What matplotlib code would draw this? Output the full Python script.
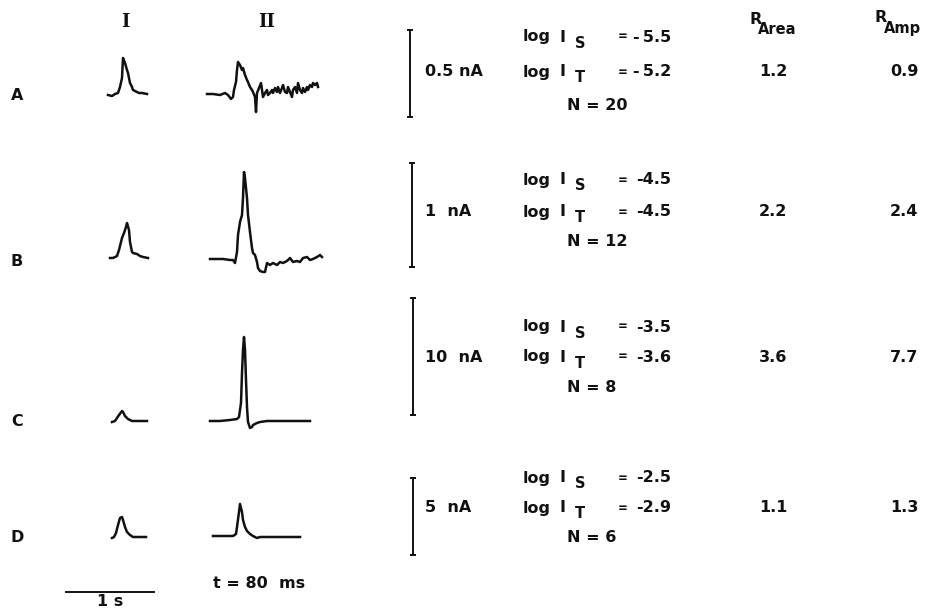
import matplotlib.pyplot as plt

plt.rcParams['font.family'] = ['DejaVu Sans']

# Averaged responses. t = sweep time, v = deflection from baseline (screen units)
# Column I: slow sweep
a1_t = [0, 4, 7, 10, 12, 14, 15, 17, 19, 20, 22, 24, 25, 29, 31, 34, 39]
a1_v = [0, -1, 1, 2, 8, 17, 37, 32, 25, 22, 12, 8, 5, 3, 2, 2, 1]
b1_t = [0, 3, 7, 9, 12, 14, 16, 17, 19, 20, 22, 23, 27, 30, 33, 38]
b1_v = [0, 0, 2, 8, 20, 25, 31, 35, 28, 16, 6, 5, 4, 2, 1, 0]
c1_t = [0, 3, 5, 7, 10, 11, 13, 16, 20, 25, 35]
c1_v = [-1, 0, 3, 6, 10, 9, 5, 2, 0, 0, 0]
d1_t = [0, 2, 4, 6, 8, 10, 11, 13, 15, 18, 21, 28, 34]
d1_v = [-1, 0, 4, 12, 19, 20, 17, 10, 5, 2, 0, 0, 0]

# Column II: fast sweep
a2_t = [0, 6, 13, 18, 21, 24, 26, 27, 29, 30, 31, 33, 35, 36, 38, 40, 41, 43, 45, 46,
        48, 49, 50, 52, 54, 55, 56, 58, 60, 61, 63, 65, 66, 68, 70, 71, 73, 75, 76, 78,
        80, 81, 83, 85, 86, 88, 90, 91, 93, 95, 96, 98, 100, 101, 103, 105, 106, 108, 110, 111]
a2_v = [0, 0, -1, 1, -1, -5, -3, 4, 12, 24, 32, 29, 24, 26, 19, 14, 12, 7, 4, 2,
        -3, -18, 1, 6, 11, 4, -3, 1, 4, -1, 1, 4, 1, 6, 2, 7, 1, 6, 9, 2,
        1, 7, 2, -3, 4, 7, 1, 11, 4, 1, 6, 2, 7, 4, 9, 7, 11, 9, 11, 7]
b2_t = [0, 7, 13, 20, 23, 25, 27, 28, 30, 32, 33, 34, 35, 37, 38, 40, 42, 43, 45, 47,
        48, 50, 53, 55, 57, 60, 63, 67, 70, 73, 77, 80, 83, 87, 90, 93, 97, 100, 103, 107,
        110, 112]
b2_v = [0, 0, 0, -1, -1, -4, 7, 24, 37, 44, 61, 87, 81, 61, 44, 27, 11, 6, 4, -3,
        -9, -12, -13, -13, -4, -6, -4, -6, -3, -4, -2, 1, -3, -2, -3, 1, 2, -1, 0, 2,
        4, 2]
c2_t = [0, 10, 20, 27, 29, 31, 32, 33, 34, 35, 36, 37, 38, 40, 42, 43, 47, 50, 57, 70, 90, 100]
c2_v = [0, 0, 1, 2, 4, 18, 48, 71, 84, 71, 41, 14, -1, -7, -6, -4, -2, -1, 0, 0, 0, 0]
d2_t = [0, 7, 14, 20, 23, 24, 26, 27, 29, 30, 32, 34, 37, 40, 44, 47, 54, 60, 67, 74, 80, 87]
d2_v = [0, 0, 0, 0, 2, 9, 24, 32, 24, 16, 9, 5, 2, 0, -2, -1, -1, -1, -1, -1, -1, -1]

rows = ['A', 'B', 'C', 'D']
col1 = [(a1_t, a1_v), (b1_t, b1_v), (c1_t, c1_v), (d1_t, d1_v)]
col2 = [(a2_t, a2_v), (b2_t, b2_v), (c2_t, c2_v), (d2_t, d2_v)]

# calibration and fit results per row
cal_nA = [0.5, 1, 10, 5]
cal_label = ['0.5 nA', '1  nA', '10  nA', '5  nA']
log_is = ['-\u20095.5', '-4.5', '-3.5', '-2.5']
log_it = ['-\u20095.2', '-4.5', '-3.6', '-2.9']
n_sweeps = [20, 12, 8, 6]
r_area = [1.2, 2.2, 3.6, 1.1]
r_amp = [0.9, 2.4, 7.7, 1.3]

# layout (pixels)
row_y = [95, 261, 421, 537]
base1 = [95, 258, 421, 537]
base2 = [94, 259, 421, 536]
x1 = [108, 110, 112, 112]
x2 = [207, 210, 210, 213]
gain = [174, 104, 11.7, 15.4]        # px per nA
bar_x = [410, 412, 413, 413]
bar_top = [30, 163, 298, 478]
lab_y = [72, 212, 357, 508]
is_y = [37, 180, 327, 478]
n_y = [106, 241, 388, 538]
px_per_s = 88

ink = '#111111'
fs = 11.5
fig = plt.figure(figsize=(9.3, 6.11), dpi=100)
ax = fig.add_axes([0, 0, 1, 1])
ax.set_xlim(0, 930)
ax.set_ylim(611, 0)
ax.axis('off')

txt = dict(color=ink, fontsize=fs, fontweight='bold', va='center')
sub = dict(color=ink, fontsize=10.5, fontweight='bold', va='center', ha='left')

ax.text(125, 22, 'I', family='DejaVu Serif', fontsize=13, fontweight='bold',
        color=ink, ha='center', va='center')
ax.text(267, 22, 'II', family='DejaVu Serif', fontsize=13, fontweight='bold',
        color=ink, ha='center', va='center')

for i, r in enumerate(rows):
    ax.text(17, row_y[i], r, ha='center', **txt)

    t, v = col1[i]
    ax.plot([x1[i] + k for k in t], [base1[i] - k for k in v], color=ink, lw=1.8,
            solid_joinstyle='round')
    t, v = col2[i]
    ax.plot([x2[i] + k for k in t], [base2[i] - k for k in v], color=ink, lw=1.8,
            solid_joinstyle='round')

    # current calibration bar
    y0 = bar_top[i]
    y1 = y0 + cal_nA[i] * gain[i]
    ax.plot([bar_x[i], bar_x[i]], [y0, y1], color=ink, lw=1.4)
    ax.plot([bar_x[i]] * 2, [y0, y1], ls='none', marker='_', ms=5, mew=1.4, color=ink)
    ax.text(425, lab_y[i], cal_label[i], ha='left', **txt)

    for yy, s, val in [(is_y[i], 'S', log_is[i]), (lab_y[i], 'T', log_it[i])]:
        ax.text(523, yy, 'log', ha='left', **txt)
        ax.text(559, yy, 'I', ha='left', **txt)
        ax.text(575, yy + 6, s, **sub)
        ax.text(623, yy, '=', ha='center', color=ink, fontsize=8.5,
                fontweight='bold', va='center')
        ax.text(671, yy, val, ha='right', **txt)

    ax.text(567, n_y[i], f'N = {n_sweeps[i]}', ha='left', **txt)

    ax.text(773, lab_y[i], f'{r_area[i]:.1f}', ha='center', **txt)
    ax.text(904, lab_y[i], f'{r_amp[i]:.1f}', ha='center', **txt)

# ratio column headings
ax.text(749, 19, 'R', ha='left', **txt)
ax.text(758, 30, 'Area', **sub)
ax.text(874, 18, 'R', ha='left', **txt)
ax.text(884, 29, 'Amp', **sub)

# time calibration
ax.plot([66, 66 + 1 * px_per_s], [592, 592], color=ink, lw=1.4)
ax.text(66 + px_per_s / 2, 601, '1 s', ha='center', **txt)
ax.text(213, 583, 't = 80  ms', ha='left', **txt)

fig.savefig('out.png', dpi=100, facecolor='white')
